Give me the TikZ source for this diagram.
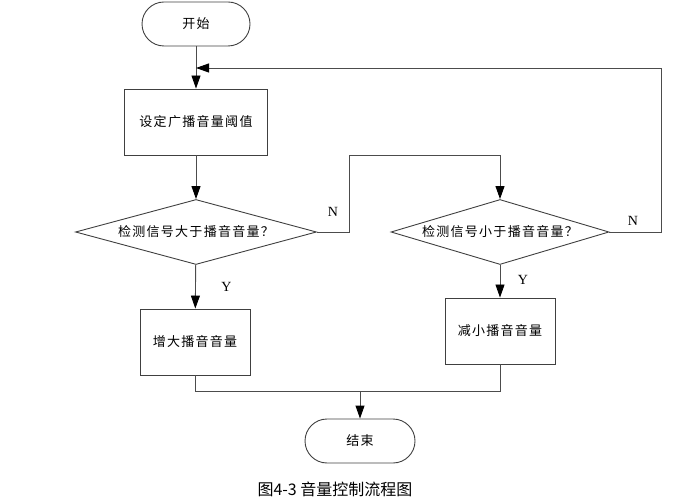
\documentclass[tikz,border=0pt]{standalone}
\usepackage{fontspec}
\setmainfont{Liberation Serif}
\newfontfamily\cjk[LetterSpace=10]{Noto Sans CJK SC}
\newfontfamily\cjkcap{Noto Sans CJK SC}
\usetikzlibrary{arrows.meta}
\usetikzlibrary{shapes.geometric}

\tikzset{
  terminal/.style={draw=black!75, rounded corners=22pt, minimum width=108pt, minimum height=44pt, font=\cjk\fontsize{13}{15}\selectfont},
  process/.style={draw=black!75, minimum width=110pt, minimum height=66pt, font=\cjk\fontsize{13}{15}\selectfont},
  decision/.style={draw=black!75, diamond, inner sep=0pt, aspect=3.6, minimum height=65pt, font=\cjk\fontsize{13}{15}\selectfont},
  flow/.style={draw=black!70, -{Triangle[length=13pt, width=9pt, color=black]}},
  link/.style={draw=black!70},
  yn/.style={font=\fontsize{14}{16}\selectfont}
}

\begin{document}
\begin{tikzpicture}[x=1pt, y=-1pt, line width=0.9pt]
\useasboundingbox (0, 0) rectangle (698, 502);
\node[terminal] (start) at (196, 24) {开始};
\node[process, minimum width=143pt] (setv) at (196, 122) {设定广播音量阈值};
\node[decision, minimum width=241pt] (big) at (196, 232) {检测信号大于播音音量？};
\node[decision, minimum width=218pt] (small) at (500, 232) {检测信号小于播音音量？};
\node[process] (inc) at (195, 342) {增大播音音量};
\node[process] (dec) at (500, 331) {减小播音音量};
\node[terminal, minimum width=110pt] (stop) at (360, 441) {结束};
\node[font=\cjkcap\fontsize{16}{18}\selectfont] (cap) at (335, 489) {图4-3 音量控制流程图};
\coordinate (back) at (196, 68);
\coordinate (merge) at (360, 391);

\draw[flow] (start) -- (setv);
\draw[flow] (setv) -- (big);
\draw[flow] (big) -- node[yn, right=22pt] {Y} (inc);
\draw[flow] (big.east) -- node[yn, above=12pt, pos=0.5] {N} ++(32, 0) -- ++(0, -77) -| (small.north);
\draw[flow] (small) -- node[yn, right=14pt, pos=0.45] {Y} (dec);
\draw[flow] (small.east) -- node[yn, above=3pt, pos=0.45] {N} ++(52, 0) |- (back);
\draw[link] (inc.south) -- (195, 391) -| (dec.south);
\draw[flow] (merge) -- (stop);
\end{tikzpicture}
\end{document}
